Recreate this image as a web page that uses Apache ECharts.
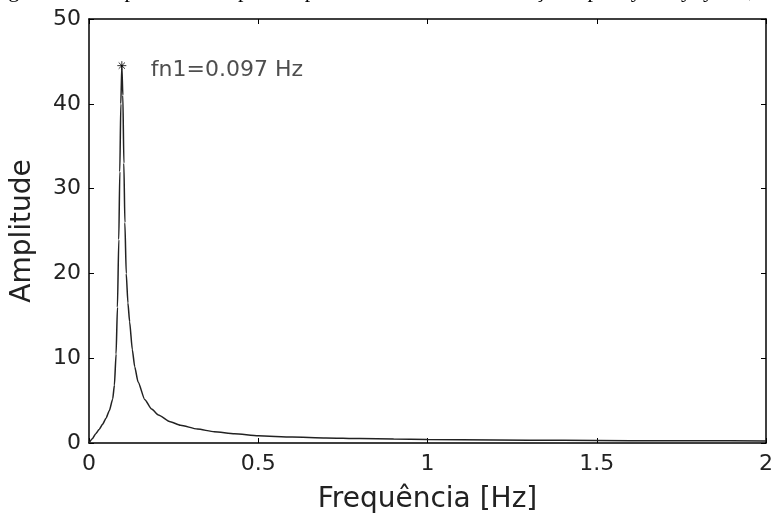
<!DOCTYPE html>
<html>
<head>
<meta charset="utf-8">
<script src="https://cdn.jsdelivr.net/npm/echarts@6/dist/echarts.min.js"></script>
<style>html,body{margin:0;padding:0;background:#fff;}#c{width:776px;height:520px;}</style>
</head>
<body>
<div id="c"></div>
<script>
var freq = [0, 0.01, 0.02, 0.03, 0.04, 0.05, 0.06, 0.07, 0.075, 0.08, 0.084, 0.088, 0.091, 0.094, 0.097, 0.1, 0.103, 0.106, 0.11, 0.115, 0.12, 0.128, 0.135, 0.145, 0.165, 0.185, 0.205, 0.24, 0.27, 0.32, 0.37, 0.43, 0.5, 0.6, 0.7, 0.8, 0.9, 1.0, 1.2, 1.4, 1.6, 1.8, 2.0];
var amplitude = [0, 0.5, 1.1, 1.6, 2.2, 2.9, 3.8, 5.2, 6.8, 10.5, 16, 24, 32, 40, 44.5, 41, 33, 26, 20, 16.5, 14.3, 11, 9, 7.2, 5.1, 4.0, 3.3, 2.5, 2.1, 1.65, 1.33, 1.1, 0.85, 0.7, 0.6, 0.52, 0.46, 0.42, 0.36, 0.31, 0.28, 0.26, 0.24];
var peakFreq = 0.097;
var peakAmp = 44.5;
var peakLabel = 'fn1=0.097 Hz';
var xTicks = ['0', '0.5', '1', '1.5', '2'];
var yTicks = ['0', '10', '20', '30', '40', '50'];
var caption = 'Figura 5.4 – Espectro de amplitude para deslocamento na direção x para y0x / y0y = 0,5';

var chart = echarts.init(document.getElementById('c'), null, {renderer: 'canvas'});
var lineData = freq.map(function (f, i) { return [f, amplitude[i]]; });
var font = 'DejaVu Sans';
var axisLineStyle = {color: '#000', width: 1.5};
function xAx(pos, show) {
  return {
    type: 'value', position: pos, min: 0, max: 2, interval: 0.5,
    axisLine: {show: true, onZero: false, lineStyle: axisLineStyle},
    axisTick: {show: true, inside: true, length: 5, lineStyle: {color: '#000', width: 1}},
    splitLine: {show: false},
    axisLabel: {show: show, margin: 10, color: '#222', fontFamily: font, fontSize: 22,
      formatter: function (v) { return xTicks[Math.round(v / 0.5)]; }},
    name: show ? 'Frequência [Hz]' : '', nameLocation: 'middle', nameGap: 43,
    nameTextStyle: {color: '#222', fontFamily: font, fontSize: 28}
  };
}
function yAx(pos, show) {
  return {
    type: 'value', position: pos, min: 0, max: 50, interval: 10,
    axisLine: {show: true, onZero: false, lineStyle: axisLineStyle},
    axisTick: {show: true, inside: true, length: 5, lineStyle: {color: '#000', width: 1}},
    splitLine: {show: false},
    axisLabel: {show: show, margin: 8, color: '#222', fontFamily: font, fontSize: 22,
      formatter: function (v) { return yTicks[Math.round(v / 10)]; }},
    name: show ? 'Amplitude' : '', nameLocation: 'middle', nameGap: 52,
    nameTextStyle: {color: '#222', fontFamily: font, fontSize: 28}
  };
}
chart.setOption({
  backgroundColor: '#fff',
  animation: false,
  grid: {left: 89, width: 685, top: 19, height: 424, containLabel: false},
  graphic: [{
    type: 'text', x: -10, y: -20,
    style: {text: caption, fontFamily: 'Liberation Serif', fontSize: 22, fill: '#000', verticalAlign: 'top'}
  }],
  xAxis: [xAx('bottom', true), xAx('top', false)],
  yAxis: [yAx('left', true), yAx('right', false)],
  series: [{
    type: 'line', data: lineData, showSymbol: false, smooth: 0.2, smoothMonotone: 'x',
    lineStyle: {color: '#222', width: 1.5}, z: 2
  }, {
    type: 'scatter', data: [[peakFreq, peakAmp]],
    symbol: 'path://M5,0 L5,10 M0,5 L10,5 M1.5,1.5 L8.5,8.5 M8.5,1.5 L1.5,8.5',
    symbolSize: 9,
    itemStyle: {color: 'rgba(0,0,0,0)', borderColor: '#000', borderWidth: 1},
    label: {show: true, position: 'right', distance: 24, offset: [0, 5],
      formatter: peakLabel, color: '#222', fontFamily: font, fontSize: 22},
    z: 3
  }]
});
</script>
</body>
</html>
